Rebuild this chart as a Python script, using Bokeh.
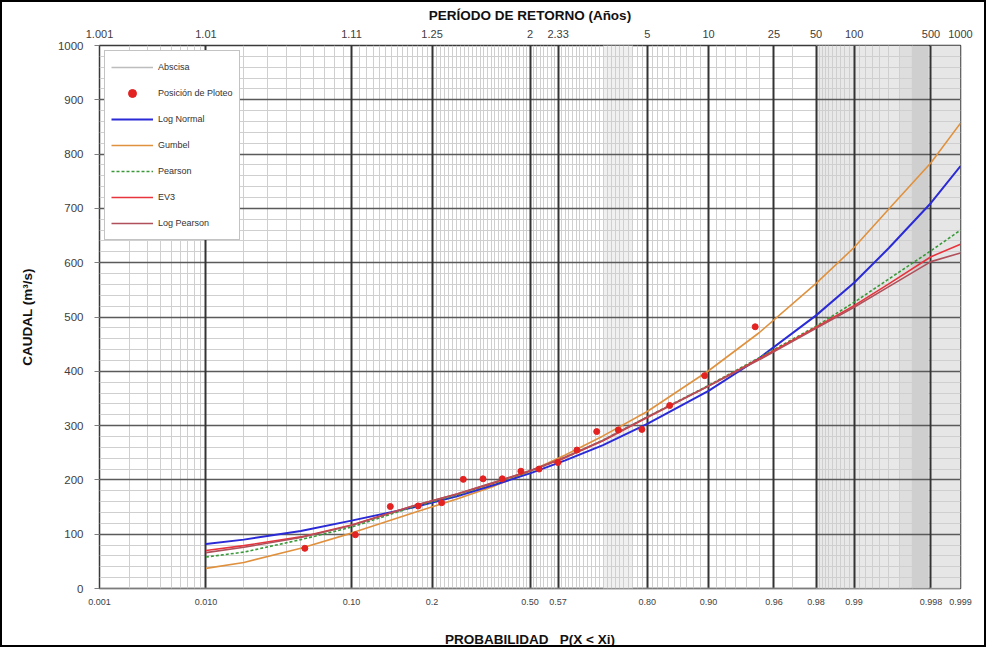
from statistics import NormalDist

from bokeh.plotting import figure
from bokeh.models import (FixedTicker, LinearAxis, Range1d, BoxAnnotation, Grid,
                          Legend, LegendItem, SingleIntervalTicker)
from bokeh.embed import file_html
from bokeh.resources import INLINE

# ---------------- data ----------------
# probability axis: grid line positions and their labels
tick_prob = [0.001, 0.01, 0.1, 0.241, 0.5, 0.58, 0.8, 0.9, 0.96, 0.98, 0.99, 0.998, 0.999]
prob_labels = ["0.001", "0.010", "0.10", "0.2", "0.50", "0.57", "0.80", "0.90",
               "0.96", "0.98", "0.99", "0.998", "0.999"]
period_labels = ["1.001", "1.01", "1.11", "1.25", "2", "2.33", "5", "10",
                 "25", "50", "100", "500", "1000"]

# plotting positions (Posición de Ploteo)
plot_prob = [0.053, 0.105, 0.158, 0.211, 0.263, 0.316, 0.368, 0.421, 0.474,
             0.526, 0.579, 0.632, 0.684, 0.737, 0.789, 0.842, 0.895, 0.947]
plot_flow = [74, 99, 151, 152, 158, 201, 202, 202, 216,
             220, 232, 255, 289, 292, 293, 337, 392, 482]

# fitted distributions
curve_prob = [0.01, 0.02, 0.05, 0.1, 0.2, 0.3, 0.4, 0.5, 0.6, 0.7, 0.8, 0.9,
              0.95, 0.98, 0.99, 0.995, 0.998, 0.999]
log_normal = [82, 90, 106, 125, 149, 170, 191, 212, 236, 264, 303, 364,
              424, 503, 563, 627, 710, 778]
gumbel = [37, 48, 74, 102, 139, 165, 189, 216, 246, 281, 326, 401,
          471, 562, 628, 699, 784, 857]
pearson = [58, 67, 90, 113, 150, 172, 194, 216, 241, 273, 316, 374,
           425, 483, 527, 570, 622, 660]
ev3 = [70, 79, 95, 117, 152, 174, 195, 217, 241, 272, 315, 373,
       423, 481, 521, 561, 611, 634]
log_pearson = [66, 76, 94, 116, 152, 174, 196, 217, 242, 273, 316, 373,
               421, 479, 518, 556, 602, 618]

abscisa_prob = [0.001, 0.999]
abscisa_flow = [0, 0]

# ---------------- helpers ----------------
nd = NormalDist()


def zz(p):
    return nd.inv_cdf(p)


FONT = "Liberation Sans"
NB = "\u00a0"

z_ticks = [zz(p) for p in tick_prob]
minor_prob = ([k / 1000 for k in range(2, 10)] + [k / 100 for k in range(2, 10)] +
              [k / 100 for k in range(11, 99) if k not in (50, 80, 90, 96, 24, 58)] +
              [k / 1000 for k in range(981, 999) if k not in (990,)])
z_minor = [zz(p) for p in minor_prob]

p = figure(width=986, height=647, output_backend="svg", toolbar_location=None,
           x_range=Range1d(zz(0.001), zz(0.999)), y_range=Range1d(0, 1000),
           min_border_left=97, min_border_right=28, min_border_top=43,
           min_border_bottom=54, x_axis_location=None)
p.styles = {"border": "2px solid #000000"}
p.background_fill_color = "#ffffff"
p.border_fill_color = "#ffffff"
p.outline_line_color = "#3a3a3a"
p.outline_line_width = 1.5

# shaded bands on the probability paper
bands = [(0.70, 0.77, "#f0f0f0"), (0.98, 0.996, "#e8e8e8"),
         (0.996, 0.9969, "#dedede"), (0.9969, 0.9979, "#cfcfcf"),
         (0.998, 0.999, "#e6e6e6")]
for a, b, c in bands:
    p.add_layout(BoxAnnotation(left=zz(a), right=zz(b), fill_color=c, fill_alpha=1,
                               line_color=None, level="image"))

# grids: minor lines first, then major horizontal, then major vertical on top
p.xgrid.ticker = FixedTicker(ticks=[], minor_ticks=z_minor)
p.xgrid.grid_line_color = None
p.xgrid.minor_grid_line_color = "#cfcfcf"
p.xgrid.minor_grid_line_width = 1
p.ygrid.ticker = SingleIntervalTicker(interval=100, num_minor_ticks=5)
p.ygrid.grid_line_color = None
p.ygrid.minor_grid_line_color = "#cfcfcf"
p.ygrid.minor_grid_line_width = 1
p.add_layout(Grid(dimension=1, ticker=SingleIntervalTicker(interval=100),
                  grid_line_color="#5a5a5a", grid_line_width=1.3, level="underlay"))
p.add_layout(Grid(dimension=0, ticker=FixedTicker(ticks=z_ticks),
                  grid_line_color="#333333", grid_line_width=2, level="underlay"))

# bottom probability axis / top return period axis
bottom = LinearAxis(ticker=FixedTicker(ticks=z_ticks),
                    major_label_overrides={z: l for z, l in zip(z_ticks, prob_labels)})
bottom.axis_label = "PROBABILIDAD" + NB * 3 + "P(X" + NB + "<" + NB + "Xi)"
top = LinearAxis(ticker=FixedTicker(ticks=z_ticks),
                 major_label_overrides={z: l for z, l in zip(z_ticks, period_labels)})
top.axis_label = "PERÍODO DE RETORNO (Años)"
for ax, fs in ((bottom, "9px"), (top, "11px")):
    ax.axis_line_color = None
    ax.major_tick_line_color = None
    ax.minor_tick_line_color = None
    ax.major_label_text_font = FONT
    ax.major_label_text_font_size = fs
    ax.major_label_text_color = "#404040"
    ax.axis_label_text_font = FONT
    ax.axis_label_text_font_style = "bold"
    ax.axis_label_text_font_size = "13.5px"
    ax.axis_label_text_color = "#111111"
bottom.major_label_standoff = 4
bottom.axis_label_standoff = 24
top.major_label_standoff = 2
top.axis_label_standoff = 4
p.add_layout(bottom, "below")
p.add_layout(top, "above")

yax = p.yaxis[0]
yax.ticker = SingleIntervalTicker(interval=100, num_minor_ticks=5)
yax.axis_line_color = None
yax.major_tick_out = 5
yax.major_tick_in = 0
yax.major_tick_line_color = "#808080"
yax.minor_tick_line_color = None
yax.major_label_standoff = 11
yax.major_label_text_font = FONT
yax.major_label_text_font_size = "11.5px"
yax.major_label_text_color = "#404040"
yax.axis_label = "CAUDAL (m³/s)"
yax.axis_label_text_font = FONT
yax.axis_label_text_font_style = "bold"
yax.axis_label_text_font_size = "13.5px"
yax.axis_label_text_color = "#111111"
yax.axis_label_standoff = 20

# series
r_abs = p.line([zz(v) for v in abscisa_prob], abscisa_flow, line_color="#bdbdbd", line_width=1.5)
zc = [zz(v) for v in curve_prob]
r_gum = p.line(zc, gumbel, line_color="#e0913e", line_width=1.6)
r_ln = p.line(zc, log_normal, line_color="#2a2ad6", line_width=2)
r_pe = p.line(zc, pearson, line_color="#3a9a3a", line_width=1.6, line_dash="3 2")
r_ev = p.line(zc, ev3, line_color="#e8343c", line_width=1.6)
r_lp = p.line(zc, log_pearson, line_color="#b0505a", line_width=1.6)
r_pts = p.scatter([zz(v) for v in plot_prob], plot_flow, size=6, marker="circle",
                  fill_color="#e32222", line_color="#e32222")

legend = Legend(items=[
    LegendItem(label="Abscisa", renderers=[r_abs]),
    LegendItem(label="Posición de Ploteo", renderers=[r_pts]),
    LegendItem(label="Log Normal", renderers=[r_ln]),
    LegendItem(label="Gumbel", renderers=[r_gum]),
    LegendItem(label="Pearson", renderers=[r_pe]),
    LegendItem(label="EV3", renderers=[r_ev]),
    LegendItem(label="Log Pearson", renderers=[r_lp]),
], location="top_left")
legend.margin = 5
legend.padding = 6
legend.spacing = 6
legend.glyph_height = 20
legend.label_height = 20
legend.glyph_width = 42
legend.label_standoff = 5
legend.label_text_font = FONT
legend.label_text_font_size = "9px"
legend.label_text_color = "#333333"
legend.background_fill_color = "#ffffff"
legend.background_fill_alpha = 1
legend.border_line_color = "#888888"
legend.border_line_width = 1
p.add_layout(legend)

open("out.html", "w").write(file_html(p, INLINE))
